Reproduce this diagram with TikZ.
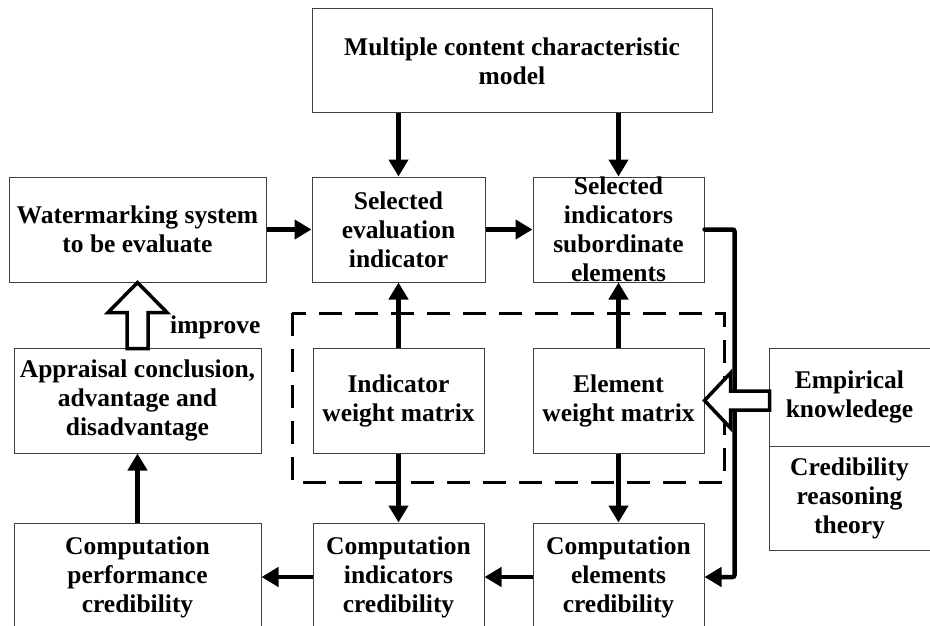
\documentclass[tikz,border=0pt]{standalone}
\usepackage{fontspec}
\setmainfont{Liberation Serif}
\usetikzlibrary{arrows.meta}

\tikzset{
    lbl/.style={inner sep=0pt, align=center,
        font=\fontsize{25.5}{29}\selectfont\bfseries},
    box/.style={lbl, draw=black!75, line width=1pt},
    arr/.style={line width=4.5pt, -{Triangle[width=19pt,length=17pt]}},
    hollow/.style={draw, line width=3.5pt, fill=white, miter limit=10},
    frame/.style={line width=3pt, dash pattern=on 23pt off 13pt}
}

\begin{document}
\begin{tikzpicture}[x=1pt,y=-1pt]
    \useasboundingbox (0,0) rectangle (930,626);
    \draw[frame] (292,313) rectangle (724,482);

    \node[box, minimum width=400, minimum height=104] (model) at (512,61) {Multiple content characteristic\\model};
    \node[box, minimum width=257, minimum height=105] (water) at (137.5,229.5) {Watermarking system\\to be evaluate};
    \node[box, minimum width=173, minimum height=105] (sei) at (398.5,229.5) {Selected\\evaluation\\indicator};
    \node[box, minimum width=171, minimum height=105] (sise) at (618.5,229.5) {};
    \node[lbl] (sisetext) at (sise) {Selected\\indicators\\subordinate\\elements};
    \node[box, minimum width=247, minimum height=105] (appr) at (137.5,400.5) {Appraisal conclusion,\\advantage and\\disadvantage};
    \node[box, minimum width=171, minimum height=105] (iwm) at (398.5,400.5) {Indicator\\weight matrix};
    \node[box, minimum width=171, minimum height=105] (ewm) at (618.5,400.5) {Element\\weight matrix};
    \node[box, minimum width=161, minimum height=98] (emp) at (849.5,397) {Empirical\\knowledege};
    \node[box, minimum width=161, minimum height=104] (cred) at (849.5,498) {Credibility\\reasoning\\theory};
    \node[box, minimum width=247, minimum height=108] (cperf) at (137.5,577) {Computation\\performance\\credibility};
    \node[box, minimum width=171, minimum height=108] (cind) at (398.5,577) {Computation\\indicators\\credibility};
    \node[box, minimum width=171, minimum height=108] (cele) at (618.5,577) {Computation\\elements\\credibility};
    \node[lbl, anchor=west] (improve) at (170,327) {improve};

    \draw[arr] (model.south -| sei.north) -- (sei.north);
    \draw[arr] (model.south -| sise.north) -- (sise.north);
    \draw[arr] (water) -- (sei);
    \draw[arr] (sei) -- (sise);
    \draw[arr] (iwm) -- (sei);
    \draw[arr] (ewm) -- (sise);
    \draw[arr] (iwm) -- (cind);
    \draw[arr] (ewm) -- (cele);
    \draw[arr] (cele) -- (cind);
    \draw[arr] (cind) -- (cperf);
    \draw[arr] (cperf) -- (appr);
    \draw[arr, line cap=round, rounded corners=2pt] (sise.east) -- ++(30,0) |- (cele.east);

    \draw[hollow] (water.south) -- ++(29.5,30) -- ++(-19,0) -- ++(0,36) -- ++(-21,0)
        -- ++(0,-36) -- ++(-19,0) -- cycle;
    \draw[hollow] (ewm.east) -- ++(26,-27.5) -- ++(0,18) -- ++(39,0) -- ++(0,19)
        -- ++(-39,0) -- ++(0,18) -- cycle;
\end{tikzpicture}
\end{document}
